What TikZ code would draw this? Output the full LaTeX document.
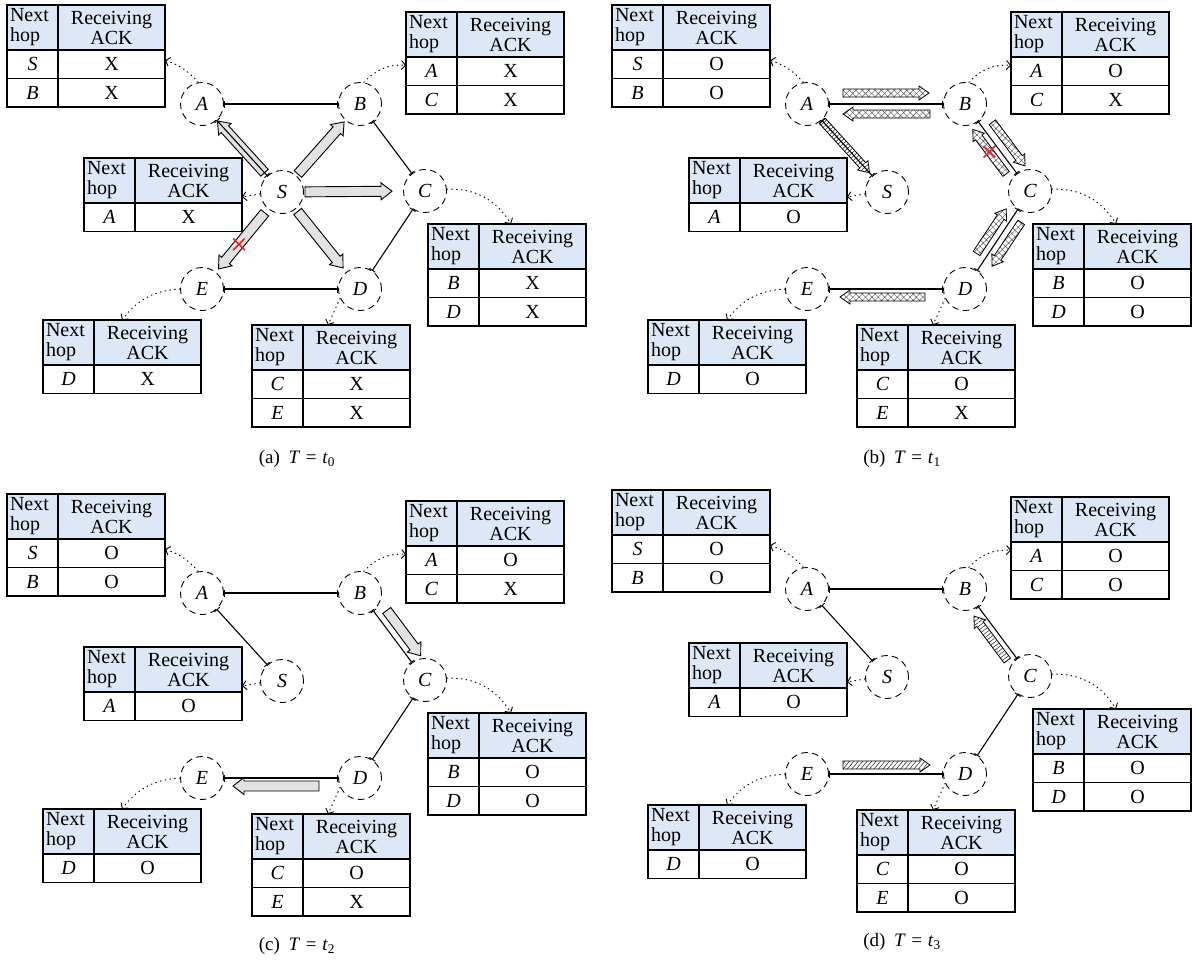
\documentclass[tikz,border=0pt]{standalone}
\usepackage{fontspec}
\setmainfont{Liberation Serif}
\usetikzlibrary{calc,arrows.meta,patterns.meta,shapes.misc}

\definecolor{hdrblue}{RGB}{220,232,245}
\definecolor{arrgray}{RGB}{226,226,226}
\definecolor{failred}{RGB}{236,32,38}

% sizes of the block arrows (half shaft width, half head width, head length)
\newcommand*\arrshaft{5pt}
\newcommand*\arrwing{8.5pt}
\newcommand*\arrhead{11pt}

% block arrow from node #2 to node #3, leaving gaps #4 and #5 at the ends,
% moved sideways by #6 to the left of its direction
\newcommand\blockarrow[6]{%
  \coordinate (bkp) at ($(#2)!#4!(#3)$);
  \coordinate (bkq) at ($(#3)!#5!(#2)$);
  \coordinate (bka) at ($(bkp)!#6!90:(bkq)$);
  \coordinate (bkb) at ($(bkq)!#6!-90:(bkp)$);
  \coordinate (bkm) at ($(bkb)!\arrhead!(bka)$);
  \draw[#1] ($(bka)!\arrshaft!90:(bkb)$) -- ($(bkm)!\arrshaft!-90:(bka)$)
    -- ($(bkm)!\arrwing!-90:(bka)$) -- (bkb) -- ($(bkm)!\arrwing!90:(bka)$)
    -- ($(bkm)!\arrshaft!90:(bka)$) -- ($(bka)!\arrshaft!-90:(bkb)$) -- cycle;}

% routing table: header row, then one row per next hop
\newcommand\hophead[2]{%
  \node[hdrL] (#1h1) at (#2) {Next\\hop};
  \node[hdrR] (#1h2) at (#1h1.north east) {Receiving\\ACK};}
\newcommand\hoprow[4]{%
  \node[celL] (#1a) at (#2.south west) {\textit{#3}};
  \node[celR] (#1b) at (#1a.north east) {#4};}

% the six hosts of one panel
\newcommand\hosts[1]{%
  \node[host] (#1A) at (202,104) {\textit{A}};
  \node[host] (#1B) at (360,104) {\textit{B}};
  \node[host] (#1S) at (282,192) {\textit{S}};
  \node[host] (#1C) at (425,191) {\textit{C}};
  \node[host] (#1E) at (202,289) {\textit{E}};
  \node[host] (#1D) at (360,289) {\textit{D}};}

% tables of A, S and E
\newcommand\tablesleft[5]{%
  \hophead{#1TA}{7,5}
  \hoprow{#1TAr1}{#1TAh1}{S}{#2}
  \hoprow{#1TAr2}{#1TAr1a}{B}{#3}
  \hophead{#1TS}{84,158}
  \hoprow{#1TSr1}{#1TSh1}{A}{#4}
  \hophead{#1TE}{43,320}
  \hoprow{#1TEr1}{#1TEh1}{D}{#5}}

% tables of B, C and D
\newcommand\tablesright[7]{%
  \hophead{#1TB}{406,12}
  \hoprow{#1TBr1}{#1TBh1}{A}{#2}
  \hoprow{#1TBr2}{#1TBr1a}{C}{#3}
  \hophead{#1TC}{428,224}
  \hoprow{#1TCr1}{#1TCh1}{B}{#4}
  \hoprow{#1TCr2}{#1TCr1a}{D}{#5}
  \hophead{#1TD}{252,325}
  \hoprow{#1TDr1}{#1TDh1}{C}{#6}
  \hoprow{#1TDr2}{#1TDr1a}{E}{#7}}

% radio links
\newcommand\links[1]{%
  \draw[link] (#1A) -- (#1B);
  \draw[link] (#1A) -- (#1S);
  \draw[link] (#1B) -- (#1C);
  \draw[link] (#1C) -- (#1D);
  \draw[link] (#1E) -- (#1D);}

% each host points to its own table
\newcommand\pointers[1]{%
  \draw[ptr] (#1A.100) to[bend right=15] ($(#1TAr1b.east)+(0,-4)$);
  \draw[ptr] (#1B.80) to[bend left=25] ($(#1TBr1a.west)+(0,-6)$);
  \draw[ptr] (#1S.185) -- ($(#1TSh2.south east)+(0,-6)$);
  \draw[ptr] (#1C.5) to[bend left=30] ($(#1TCh2.north west)+(32,0)$);
  \draw[ptr] (#1E.180) to[bend right=25] ($(#1TEh2.north west)+(28,0)$);
  \draw[ptr] (#1D.205) -- ($(#1TDh2.north west)+(25,0)$);}

\newcommand\stamp[2]{(#1)\hspace{0.45em}\textit{T}\hspace{0.3em}=\hspace{0.3em}\textit{t}\textsubscript{#2}}

\begin{document}
\begin{tikzpicture}[x=1pt,y=-1pt,font=\fontsize{20}{20}\selectfont,
  host/.style={circle, draw, dash pattern=on 6.5pt off 4.5pt, line width=0.9pt,
    minimum size=43pt, inner sep=0pt},
  link/.style={line width=1.1pt, {Bar[width=7pt,line width=0.9pt]}-{Bar[width=7pt,line width=0.9pt]}},
  ptr/.style={line width=1pt, dash pattern=on 0.8pt off 4pt, line cap=round,
    -{Straight Barb[length=4pt,width=9pt,line width=0.9pt]}},
  cellbase/.style={draw, line width=1.3pt, inner sep=0pt, outer sep=0pt, anchor=north west},
  hdrL/.style={cellbase, fill=hdrblue, minimum width=51pt, minimum height=45pt,
    text width=45pt, align=left},
  hdrR/.style={cellbase, fill=hdrblue, minimum width=107pt, minimum height=45pt,
    text width=107pt, align=center},
  celL/.style={cellbase, minimum width=51pt, minimum height=28.5pt},
  celR/.style={cellbase, minimum width=107pt, minimum height=28.5pt},
  solidarr/.style={draw, line width=0.9pt, line join=miter, fill=arrgray},
  xhatch/.style={draw, line width=0.8pt, line join=miter, preaction={fill=white},
    pattern={Hatch[distance=4.5pt,angle=45,line width=0.45pt]}, pattern color=black!65},
  rungs/.style={draw, line width=0.8pt, line join=miter, preaction={fill=white},
    pattern={Lines[distance=3.2pt,angle=#1,line width=0.55pt]}, pattern color=black!85},
  slant/.style={draw, line width=0.8pt, line join=miter, preaction={fill=white},
    pattern={Lines[distance=3.4pt,angle=50,line width=0.6pt]}, pattern color=black!80},
  xmark/.style={cross out, draw=failred, line width=1.6pt, minimum size=10pt, inner sep=0pt},
  capt/.style={font=\fontsize{19}{20}\selectfont}]

\fill[white] (0,0) rectangle (1196,959);
\useasboundingbox (0,0) rectangle (1196,959);

% ---------- (a) T = t0 : S broadcasts ----------
\begin{scope}
  \hosts{a}
  \tablesleft{a}{X}{X}{X}{X}
  \tablesright{a}{X}{X}{X}{X}{X}{X}
  \node[capt] (capa) at (297,459) {\stamp{a}{0}};
\end{scope}
\blockarrow{solidarr}{aS}{aA}{26pt}{23pt}{0pt}
\blockarrow{solidarr}{aS}{aB}{24pt}{24pt}{0pt}
\blockarrow{solidarr}{aS}{aC}{23pt}{33pt}{0pt}
\blockarrow{solidarr}{aS}{aD}{25pt}{27pt}{0pt}
\blockarrow{solidarr}{aS}{aE}{27pt}{26pt}{0pt}
\node[xmark] (aX) at ($(bka)!0.56!(bkb)$) {};
\links{a}
\pointers{a}

% ---------- (b) T = t1 ----------
\begin{scope}[shift={(605,0)}]
  \hosts{b}
  \tablesleft{b}{O}{O}{O}{O}
  \tablesright{b}{O}{X}{O}{O}{O}{X}
  \node[capt] (capb) at (297,459) {\stamp{b}{1}};
\end{scope}
\renewcommand*\arrshaft{4pt}
\renewcommand*\arrwing{7pt}
\renewcommand*\arrhead{10pt}
\blockarrow{xhatch}{bA}{bB}{36pt}{36pt}{11pt}
\blockarrow{xhatch}{bB}{bA}{35pt}{36pt}{10pt}
\blockarrow{rungs=42}{bA}{bS}{23pt}{26pt}{0pt}
\blockarrow{xhatch}{bB}{bC}{31pt}{23pt}{11pt}
\blockarrow{xhatch}{bD}{bC}{36pt}{28pt}{10pt}
\blockarrow{xhatch}{bC}{bD}{31pt}{34pt}{10pt}
\blockarrow{xhatch}{bD}{bE}{40pt}{33pt}{8pt}
\blockarrow{xhatch}{bC}{bB}{28pt}{25pt}{9pt}
\node[xmark] (bX) at ($(bka)!0.5!(bkb)$) {};
\links{b}
\pointers{b}

% ---------- (c) T = t2 ----------
\begin{scope}[shift={(0,489)}]
  \hosts{c}
  \tablesleft{c}{O}{O}{O}{O}
  \tablesright{c}{O}{X}{O}{O}{O}{X}
  \node[capt] (capc) at (297,457) {\stamp{c}{2}};
\end{scope}
\renewcommand*\arrshaft{5pt}
\renewcommand*\arrwing{8.5pt}
\renewcommand*\arrhead{11pt}
\blockarrow{solidarr}{cB}{cC}{30pt}{22pt}{11pt}
\blockarrow{solidarr}{cD}{cE}{41pt}{31pt}{8pt}
\links{c}
\pointers{c}

% ---------- (d) T = t3 ----------
\begin{scope}[shift={(605,485)}]
  \hosts{d}
  \tablesleft{d}{O}{O}{O}{O}
  \tablesright{d}{O}{O}{O}{O}{O}{O}
  \node[capt] (capd) at (297,457) {\stamp{d}{3}};
\end{scope}
\renewcommand*\arrshaft{4pt}
\renewcommand*\arrwing{7pt}
\renewcommand*\arrhead{10pt}
\blockarrow{rungs=37}{dC}{dB}{26pt}{27pt}{9pt}
\blockarrow{slant}{dE}{dD}{36pt}{35pt}{9pt}
\links{d}
\pointers{d}

\end{tikzpicture}
\end{document}
